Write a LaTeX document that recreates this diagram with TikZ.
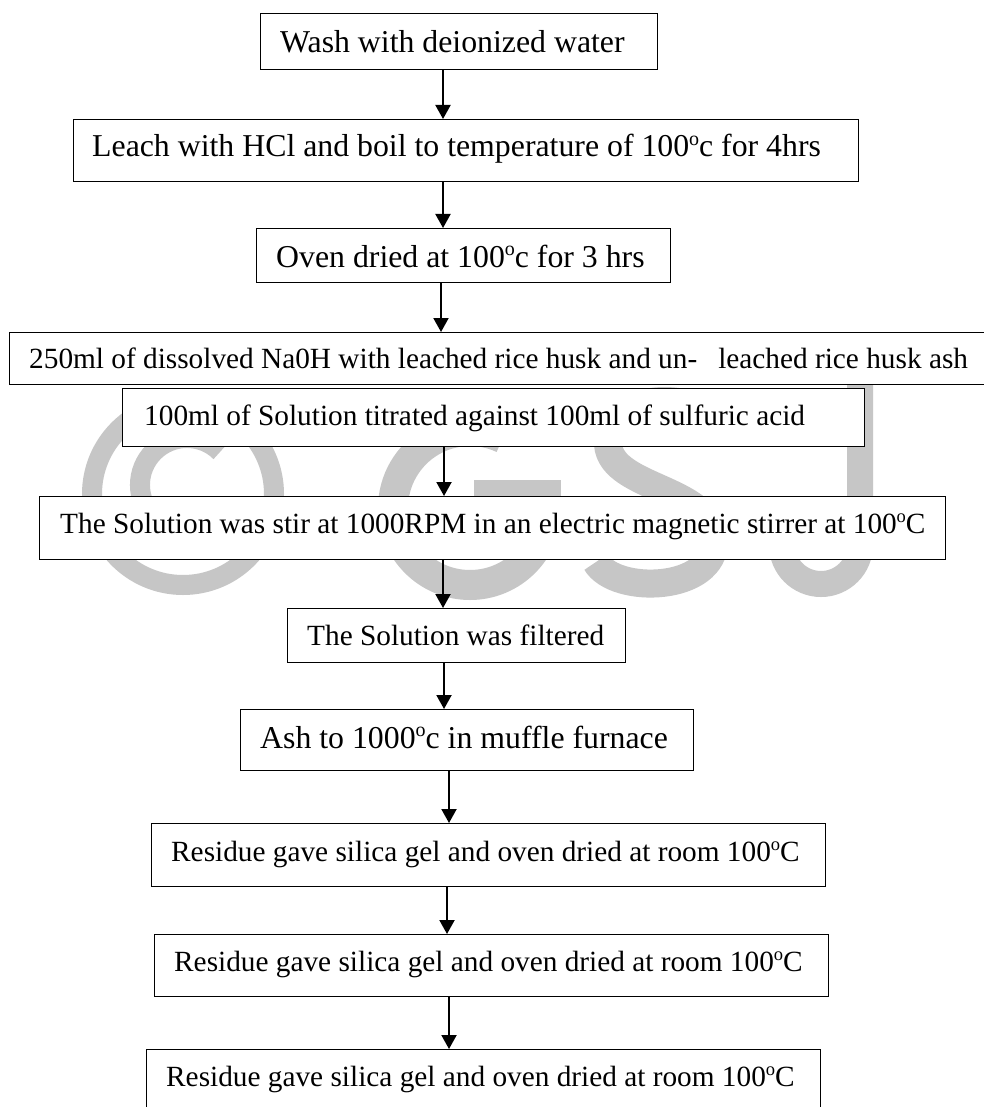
\documentclass[tikz,border=0pt]{standalone}
\usepackage{fontspec}
\setmainfont{Liberation Serif}
\usetikzlibrary{arrows.meta}
\definecolor{wmgray}{RGB}{198,198,198}
\newcommand\supoL{\raisebox{11.5pt}{\fontsize{20}{20}\selectfont o}}
\newcommand\supoS{\raisebox{10.6pt}{\fontsize{18.5}{18.5}\selectfont o}}
\begin{document}
\begin{tikzpicture}[x=1pt,y=-1pt,
  box/.style={draw=black, line width=1.3pt, fill=white, rectangle, inner sep=0pt, anchor=north west},
  lbl/.style={anchor=base west, inner sep=0pt, font=\fontsize{31.8}{38}\selectfont},
  lbls/.style={anchor=base west, inner sep=0pt, font=\fontsize{29.3}{35}\selectfont},
  arr/.style={line width=2pt, -{Triangle[length=14pt,width=15pt]}},
  wm/.style={draw=wmgray, line cap=butt}]
\clip (0,0) rectangle (984,1107);
\fill[white] (0,0) rectangle (984,1107);
% watermark
\draw[wm, line width=20pt] (183,494) circle[radius=91];
\draw[wm, line width=20pt] (220.2,518.2) arc[start angle=45, end angle=315, radius=47];
\draw[wm, line width=30pt] (547,508) arc[start angle=0, end angle=295, radius=77];
\fill[wmgray] (474,480) rectangle (561,506);
\draw[wm, line width=28pt] (712,420) .. controls (695,392) and (612,392) .. (608,440)
  .. controls (605,490) and (712,485) .. (714,540)
  .. controls (716,592) and (615,595) .. (596,562);
\draw[wm, line width=26pt] (860,380) -- (860,545) arc[start angle=0, end angle=180, radius=39] -- (782,515);
% boxes
\node[box, minimum width=397pt, minimum height=56pt] (b1) at (260,13) {};
\node[box, minimum width=785pt, minimum height=62pt] (b2) at (73,119) {};
\node[box, minimum width=414pt, minimum height=54pt] (b3) at (256,228) {};
\node[box, minimum width=990pt, minimum height=52pt] (b4) at (9,332) {};
\node[box, minimum width=742pt, minimum height=58pt] (b5) at (122,388) {};
\node[box, minimum width=906pt, minimum height=63pt] (b6) at (39,496) {};
\node[box, minimum width=338pt, minimum height=54pt] (b7) at (287,608) {};
\node[box, minimum width=453pt, minimum height=61pt] (b8) at (240,709) {};
\node[box, minimum width=674pt, minimum height=63pt] (b9) at (151,823) {};
\node[box, minimum width=674pt, minimum height=62pt] (b10) at (154,934) {};
\node[box, minimum width=674pt, minimum height=90pt] (b11) at (146,1049) {};
% texts
\node[lbl] (t1) at (280,53) {Wash with deionized water};
\node[lbl] (t2) at (92,157) {Leach with HCl and boil to temperature of 100\supoL c for 4hrs};
\node[lbl] (t3) at (276,267) {Oven dried at 100\supoL c for 3 hrs};
\node[lbls] (t4) at (29,368) {250ml of dissolved Na0H with leached rice husk and un-\hspace{21pt}leached rice husk ash};
\node[lbls] (t5) at (144,425) {100ml of Solution titrated against 100ml of sulfuric acid};
\node[lbls] (t6) at (60,533) {The Solution was stir at 1000RPM in an electric magnetic stirrer at 100\supoS C};
\node[lbls] (t7) at (307,645) {The Solution was filtered};
\node[lbl] (t8) at (260,748) {Ash to 1000\supoL c in muffle furnace};
\node[lbls] (t9) at (171,861) {Residue gave silica gel and oven dried at room 100\supoS C};
\node[lbls] (t10) at (174,971) {Residue gave silica gel and oven dried at room 100\supoS C};
\node[lbls] (t11) at (166,1086) {Residue gave silica gel and oven dried at room 100\supoS C};
% arrows
\draw[arr] (443,0 |- b1.south) -- (443,0 |- b2.north);
\draw[arr] (443,0 |- b2.south) -- (443,0 |- b3.north);
\draw[arr] (441,0 |- b3.south) -- (441,0 |- b4.north);
\draw[arr] (444,0 |- b5.south) -- (444,0 |- b6.north);
\draw[arr] (443,0 |- b6.south) -- (443,0 |- b7.north);
\draw[arr] (444,0 |- b7.south) -- (444,0 |- b8.north);
\draw[arr] (449,0 |- b8.south) -- (449,0 |- b9.north);
\draw[arr] (447,0 |- b9.south) -- (447,0 |- b10.north);
\draw[arr] (449,0 |- b10.south) -- (449,0 |- b11.north);
\end{tikzpicture}
\end{document}
